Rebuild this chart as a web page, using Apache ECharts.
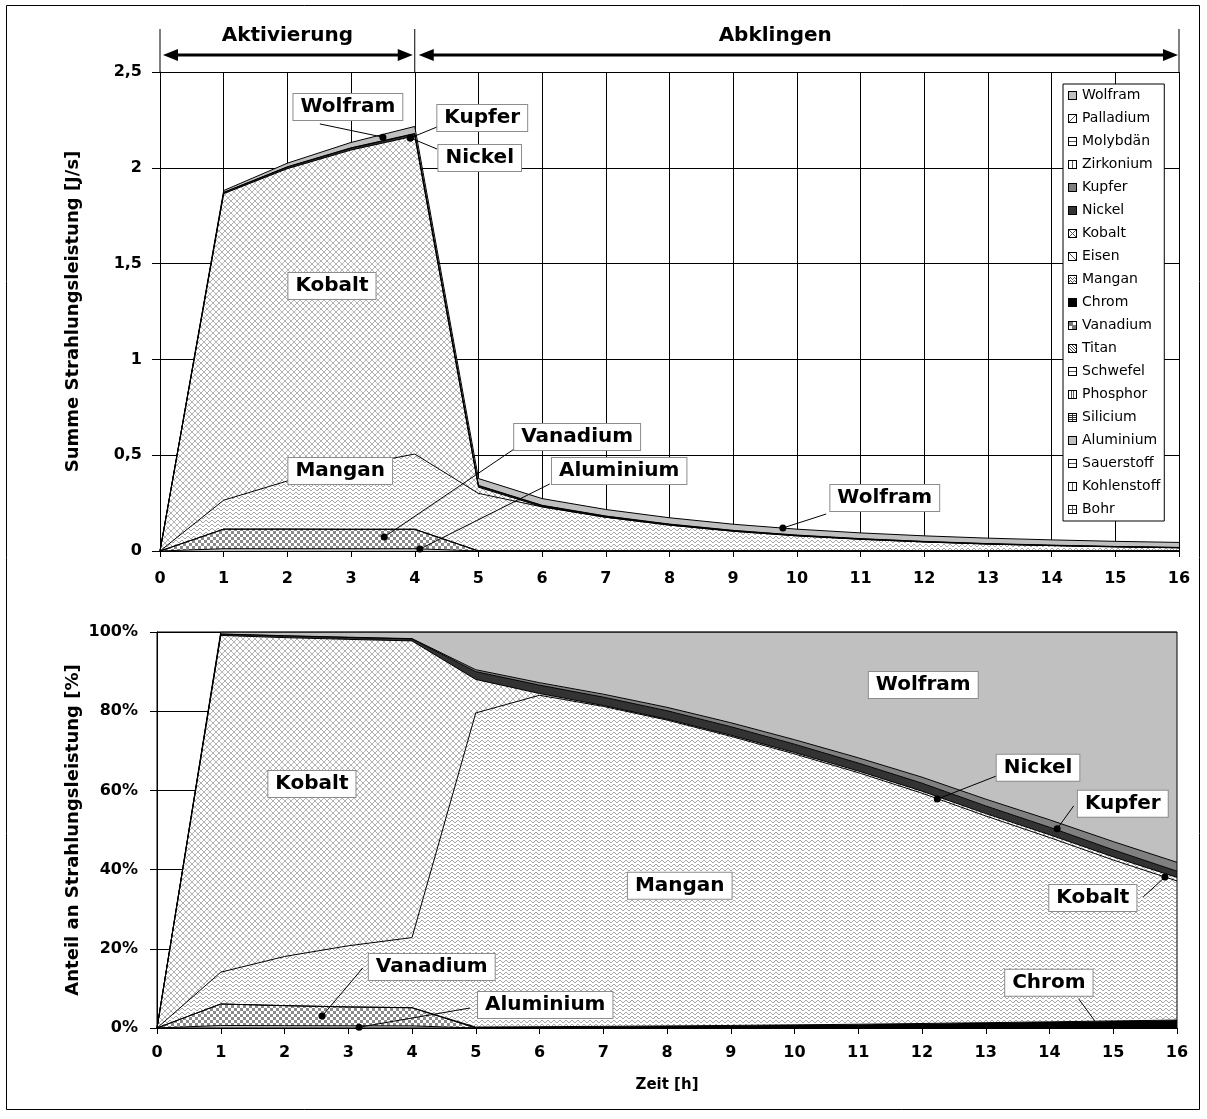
<!DOCTYPE html>
<html><head><meta charset="utf-8">
<script src="https://cdn.jsdelivr.net/npm/echarts@6/dist/echarts.min.js"></script>
<style>html,body{margin:0;padding:0;background:#fff}#c{width:1207px;height:1119px}</style>
</head><body><div id="c"></div>
<script>
// ---------------- DATA ----------------
const hours = [0,1,2,3,4,5,6,7,8,9,10,11,12,13,14,15,16];
const yTicksAbs = [0,0.5,1,1.5,2,2.5];
const yTicksPct = [0,20,40,60,80,100];
// absolute radiation power per element [J/s]
const bohr        = [0,0,0,0,0,0,0,0,0,0,0,0,0,0,0,0,0];
const kohlenstoff = [0,0,0,0,0,0,0,0,0,0,0,0,0,0,0,0,0];
const sauerstoff  = [0,0,0,0,0,0,0,0,0,0,0,0,0,0,0,0,0];
const aluminium   = [0,0.012,0.012,0.012,0.012,0,0,0,0,0,0,0,0,0,0,0,0];
const silicium    = [0,0,0,0,0,0,0,0,0,0,0,0,0,0,0,0,0];
const phosphor    = [0,0,0,0,0,0,0,0,0,0,0,0,0,0,0,0,0];
const schwefel    = [0,0,0,0,0,0,0,0,0,0,0,0,0,0,0,0,0];
const titan       = [0,0,0,0,0,0,0,0,0,0,0,0,0,0,0,0,0];
const vanadium    = [0,0.102,0.102,0.101,0.101,0,0,0,0,0,0,0,0,0,0,0,0];
const chrom       = [0,0.0002,0.0005,0.0007,0.0009,0.0009,0.0009,0.0009,0.0009,0.0009,0.0009,0.0009,0.0009,0.0009,0.0009,0.0009,0.0009];
const mangan      = [0,0.151,0.251,0.329,0.392,0.300,0.229,0.175,0.134,0.102,0.078,0.060,0.046,0.035,0.027,0.0205,0.0157];
const eisen       = [0,0,0,0,0,0,0,0,0,0,0,0,0,0,0,0,0];
const kobalt      = [0,1.600,1.630,1.650,1.660,0.032,0.0012,0.0005,0.0004,0.0004,0.0004,0.0004,0.0004,0.0004,0.0004,0.0004,0.0004];
const nickel      = [0,0.006,0.0085,0.0100,0.0110,0.0075,0.0058,0.0046,0.0037,0.0030,0.0024,0.0019,0.0016,0.0013,0.0011,0.0009,0.0007];
const kupfer      = [0,0.0007,0.0012,0.0016,0.0019,0.0018,0.0017,0.0016,0.0015,0.0014,0.0013,0.00125,0.0012,0.00115,0.0011,0.00105,0.001];
const zirkonium   = [0,0,0,0,0,0,0,0,0,0,0,0,0,0,0,0,0];
const molybdaen   = [0,0,0,0,0,0,0,0,0,0,0,0,0,0,0,0,0];
const palladium   = [0,0,0,0,0,0,0,0,0,0,0,0,0,0,0,0,0];
const wolfram     = [0,0.0095,0.019,0.028,0.037,0.036,0.035,0.034,0.033,0.032,0.031,0.030,0.029,0.0283,0.0275,0.0267,0.026];

// stacking order (bottom -> top) and legend order (top -> bottom)
const stackNames = ['Bohr','Kohlenstoff','Sauerstoff','Aluminium','Silicium','Phosphor','Schwefel','Titan','Vanadium','Chrom','Mangan','Eisen','Kobalt','Nickel','Kupfer','Zirkonium','Molybdän','Palladium','Wolfram'];
const stackValues = [bohr,kohlenstoff,sauerstoff,aluminium,silicium,phosphor,schwefel,titan,vanadium,chrom,mangan,eisen,kobalt,nickel,kupfer,zirkonium,molybdaen,palladium,wolfram];
const legendNames = stackNames.slice().reverse();

// ---------------- STYLES ----------------
const FONT = '"DejaVu Sans", "Liberation Sans", sans-serif';
function tile(w,h,fg,rects){
  const c=document.createElement('canvas'); c.width=w; c.height=h;
  const g=c.getContext('2d'); g.fillStyle='#fff'; g.fillRect(0,0,w,h);
  g.fillStyle=fg; rects.forEach(r=>g.fillRect(r[0],r[1],r[2]||1,r[3]||1));
  return c;
}
const crossTile = tile(6,6,'#b2b2b2',[[0,0],[1,1],[2,2],[3,3],[4,4],[5,5],[5,0],[4,1],[3,2],[2,3],[1,4],[0,5]]);
const waveTile  = tile(6,4,'#a6a6a6',[[0,1],[1,0],[2,0],[3,1],[4,2],[5,2]]);
const checkTile = tile(6,6,'#8a8a8a',[[0,0,3,3],[3,3,3,3]]);
const pat = c => ({image:c, repeat:'repeat'});
const fills = {
  'Wolfram':'#c0c0c0','Kupfer':'#808080','Nickel':'#333333','Chrom':'#000000','Aluminium':'#c0c0c0',
  'Kobalt':pat(crossTile),'Mangan':pat(waveTile),'Vanadium':pat(checkTile)
};

function icon(kind, color){
  const c=document.createElement('canvas'); c.width=9; c.height=9;
  const g=c.getContext('2d'); g.fillStyle=color||'#fff'; g.fillRect(0,0,9,9);
  g.fillStyle='#555';
  const px=(x,y,w,h)=>g.fillRect(x,y,w||1,h||1);
  if(kind==='slash'){for(let i=1;i<8;i++)px(i,8-i);}
  if(kind==='back'){for(let i=1;i<8;i++)px(i,i);}
  if(kind==='x'){for(let i=1;i<8;i++){px(i,i);px(i,8-i);}}
  if(kind==='h'){px(1,4,7,1);}
  if(kind==='v'){px(4,1,1,7);}
  if(kind==='vv'){px(3,1,1,7);px(5,1,1,7);}
  if(kind==='plus'){px(1,4,7,1);px(4,1,1,7);}
  if(kind==='grid'){g.fillStyle='#333';px(1,4,7,1);px(4,1,1,7);px(1,2,7,1);px(1,6,7,1);}
  if(kind==='wave'){px(1,3);px(2,2);px(3,3);px(4,4);px(5,3);px(6,2);px(7,3);px(1,6);px(2,5);px(3,6);px(4,7);px(5,6);px(6,5);px(7,6);}
  if(kind==='check'){g.fillStyle='#777';px(1,1,4,4);px(4,4,4,4);}
  if(kind==='titan'){g.fillStyle='#444';for(let i=0;i<9;i++){px(i,i);px(i,i+3);px(i,i-3);px(i,i+6);px(i,i-6);}}
  g.strokeStyle='#000'; g.lineWidth=1; g.strokeRect(0.5,0.5,8,8);
  return 'image://'+c.toDataURL();
}
const icons = {
  'Wolfram':icon('solid','#c0c0c0'),'Palladium':icon('slash'),'Molybdän':icon('h'),'Zirkonium':icon('v'),
  'Kupfer':icon('solid','#808080'),'Nickel':icon('solid','#333333'),'Kobalt':icon('x'),'Eisen':icon('back'),
  'Mangan':icon('wave'),'Chrom':icon('solid','#000000'),'Vanadium':icon('check'),'Titan':icon('titan'),
  'Schwefel':icon('h'),'Phosphor':icon('vv'),'Silicium':icon('grid'),'Aluminium':icon('solid','#c0c0c0'),
  'Sauerstoff':icon('h'),'Kohlenstoff':icon('v'),'Bohr':icon('plus')
};

// ---------------- SERIES ----------------
const totals = hours.map((h,i)=>stackValues.reduce((s,arr)=>s+arr[i],0));
const series = [];
stackNames.forEach((n,k)=>{
  const vals = stackValues[k];
  const nonzero = vals.some(v=>v>0);
  const base = {
    type:'line', name:n, symbol:'none', showSymbol:false, silent:true, animation:false,
    lineStyle: nonzero ? {color:'#000', width:1} : {width:0, opacity:0},
    areaStyle: {color: fills[n] || '#fff', opacity: nonzero?1:0},
    itemStyle: {color: typeof fills[n]==='string' ? fills[n] : '#bbb'}
  };
  series.push(Object.assign({}, base, {xAxisIndex:0, yAxisIndex:0, stack:'abs', data: vals.slice()}));
  series.push(Object.assign({}, base, {xAxisIndex:1, yAxisIndex:1, stack:'pct',
    data: vals.map((v,i)=> totals[i]>0 ? v/totals[i]*100 : 0)}));
});

const tickLabel = {fontFamily:FONT, fontWeight:'bold', fontSize:16, color:'#000', interval:0};
const axisBlack = {lineStyle:{color:'#000', width:1}};
const cats = hours.map(String);

const option = {
  animation:false,
  backgroundColor:'#fff',
  grid:[
    {left:160, top:72, width:1019, height:479},
    {left:157, top:632, width:1020, height:396}
  ],
  xAxis:[
    {type:'category', gridIndex:0, data:cats, boundaryGap:false,
     axisLine:axisBlack, axisTick:{show:true, length:6, interval:0, lineStyle:{color:'#000'}},
     axisLabel:Object.assign({margin:20}, tickLabel),
     splitLine:{show:true, interval:0, lineStyle:{color:'#000', width:1}}},
    {type:'category', gridIndex:1, data:cats, boundaryGap:false,
     axisLine:axisBlack, axisTick:{show:true, length:6, interval:0, lineStyle:{color:'#000'}},
     axisLabel:Object.assign({margin:17}, tickLabel),
     splitLine:{show:false},
     name:'Zeit [h]', nameLocation:'middle', nameGap:50, nameMoveOverlap:false,
     nameTextStyle:{fontFamily:FONT, fontWeight:'bold', fontSize:15, color:'#000'}}
  ],
  yAxis:[
    {type:'value', gridIndex:0, min:0, max:2.5, interval:0.5,
     axisLine:{show:true, lineStyle:{color:'#000', width:1}}, axisTick:{show:true, length:8, lineStyle:{color:'#000'}},
     axisLabel:Object.assign({margin:18, formatter:v=>String(v).replace('.',',')}, tickLabel),
     splitLine:{show:true, lineStyle:{color:'#000', width:1}},
     name:'Summe Strahlungsleistung [J/s]', nameLocation:'middle', nameGap:78, nameRotate:90, nameMoveOverlap:false,
     nameTextStyle:{fontFamily:FONT, fontWeight:'bold', fontSize:18, color:'#000'}},
    {type:'value', gridIndex:1, min:0, max:100, interval:20,
     axisLine:{show:true, lineStyle:{color:'#000', width:1}}, axisTick:{show:true, length:7, lineStyle:{color:'#000'}},
     axisLabel:Object.assign({margin:19, formatter:'{value}%'}, tickLabel),
     splitLine:{show:true, lineStyle:{color:'#000', width:1}},
     name:'Anteil an Strahlungsleistung [%]', nameLocation:'middle', nameGap:75, nameRotate:90, nameMoveOverlap:false,
     nameTextStyle:{fontFamily:FONT, fontWeight:'bold', fontSize:18, color:'#000'}}
  ],
  legend:{
    data: legendNames.map(n=>({name:n, icon:icons[n]})),
    orient:'vertical', left:1063, top:84, itemWidth:9, itemHeight:9, itemGap:8,
    padding:[4,4,4,5], backgroundColor:'#fff', borderColor:'#000', borderWidth:1,
    selectedMode:false,
    textStyle:{fontFamily:FONT, fontSize:14, color:'#000', lineHeight:15}
  },
  series: series
};

const chart = echarts.init(document.getElementById('c'), null, {renderer:'canvas'});
chart.setOption(option);

// ---------------- ANNOTATIONS ----------------
const callouts = [
  {g:0, text:'Wolfram',   at:[2.95,2.317], dot:[3.50,2.160], end:[2.51,2.229]},
  {g:0, text:'Kupfer',    at:[5.06,2.260], dot:[3.93,2.156], end:[4.35,2.213]},
  {g:0, text:'Nickel',    at:[5.02,2.051], dot:[3.93,2.156], end:[4.35,2.098]},
  {g:0, text:'Kobalt',    at:[2.70,1.383]},
  {g:0, text:'Mangan',    at:[2.83,0.4175]},
  {g:0, text:'Vanadium',  at:[6.55,0.595], dot:[3.52,0.073], end:[5.56,0.532]},
  {g:0, text:'Aluminium', at:[7.21,0.4175], dot:[4.08,0.010], end:[6.12,0.350]},
  {g:0, text:'Wolfram',   at:[11.38,0.277], dot:[9.78,0.120], end:[10.46,0.193]},
  {g:1, text:'Wolfram',   at:[12.02,86.6]},
  {g:1, text:'Kobalt',    at:[2.43,61.6]},
  {g:1, text:'Mangan',    at:[8.20,35.9]},
  {g:1, text:'Nickel',    at:[13.82,65.7], dot:[12.24,57.8], end:[13.16,63.6]},
  {g:1, text:'Kupfer',    at:[15.15,56.6], dot:[14.12,50.3], end:[14.38,56.1]},
  {g:1, text:'Kobalt',    at:[14.68,32.8], dot:[15.81,38.1], end:[15.47,33.1]},
  {g:1, text:'Vanadium',  at:[4.31,15.4], dot:[2.59,3.0], end:[3.23,15.2]},
  {g:1, text:'Aluminium', at:[6.09,5.8], dot:[3.17,0.2], end:[4.91,5.05]},
  {g:1, text:'Chrom',     at:[13.99,11.4], start:[14.71,1.8], end:[14.46,7.3]}
];
// pixel position from (hour, value) via the axes; hours may be fractional
function P(g, pt){
  const x0 = chart.convertToPixel({xAxisIndex:g}, 0);
  const x16 = chart.convertToPixel({xAxisIndex:g}, 16);
  const y = chart.convertToPixel({yAxisIndex:g}, pt[1]);
  return [x0 + pt[0]*(x16-x0)/16, y];
}
const gfx = [];
// outer frame
gfx.push({type:'rect', z:200, shape:{x:6.5,y:5.5,width:1193,height:1104}, style:{fill:'none', stroke:'#000', lineWidth:1}});
// frame of lower plot
const b0 = P(1,[0,100]), b1 = P(1,[16,0]);
gfx.push({type:'rect', z:150, shape:{x:b0[0],y:b0[1],width:b1[0]-b0[0],height:b1[1]-b0[1]}, style:{fill:'none', stroke:'#000', lineWidth:1}});

callouts.forEach(c=>{
  const a = P(c.g, c.at);
  if(c.end){
    const s = P(c.g, c.dot || c.start), e = P(c.g, c.end);
    gfx.push({type:'line', z:160, shape:{x1:s[0],y1:s[1],x2:e[0],y2:e[1]}, style:{stroke:'#000', lineWidth:1}});
    if(c.dot) gfx.push({type:'circle', z:161, shape:{cx:s[0],cy:s[1],r:3.5}, style:{fill:'#000'}});
  }
  gfx.push({type:'text', z:170, x:a[0], y:a[1], style:{text:c.text, fontFamily:FONT, fontWeight:'bold', fontSize:20,
    fill:'#000', align:'center', verticalAlign:'middle', backgroundColor:'#fff', borderColor:'#8c8c8c', borderWidth:1, padding:[3,7,3,7]}});
});

// phase arrows above the upper plot
const xa = P(0,[0,2.5])[0], xb = P(0,[4,2.5])[0], xc = P(0,[16,2.5])[0], yTop = P(0,[0,2.5])[1];
const ay = 55;
[xa,xb,xc].forEach(x=>gfx.push({type:'line', z:160, shape:{x1:x,y1:29,x2:x,y2:yTop}, style:{stroke:'#000', lineWidth:1}}));
function arrow(x1,x2){
  gfx.push({type:'line', z:160, shape:{x1:x1+10,y1:ay,x2:x2-10,y2:ay}, style:{stroke:'#000', lineWidth:3}});
  gfx.push({type:'polygon', z:160, shape:{points:[[x1,ay],[x1+15,ay-6],[x1+15,ay+6]]}, style:{fill:'#000'}});
  gfx.push({type:'polygon', z:160, shape:{points:[[x2,ay],[x2-15,ay-6],[x2-15,ay+6]]}, style:{fill:'#000'}});
}
arrow(xa+3, xb-2);
arrow(xb+4, xc-1);
gfx.push({type:'text', z:170, x:(xa+xb)/2, y:36, style:{text:'Aktivierung', fontFamily:FONT, fontWeight:'bold', fontSize:20, fill:'#000', align:'center', verticalAlign:'middle'}});
gfx.push({type:'text', z:170, x:P(0,[9.66,0])[0], y:36, style:{text:'Abklingen', fontFamily:FONT, fontWeight:'bold', fontSize:20, fill:'#000', align:'center', verticalAlign:'middle'}});

chart.setOption({graphic: gfx});
</script></body></html>
